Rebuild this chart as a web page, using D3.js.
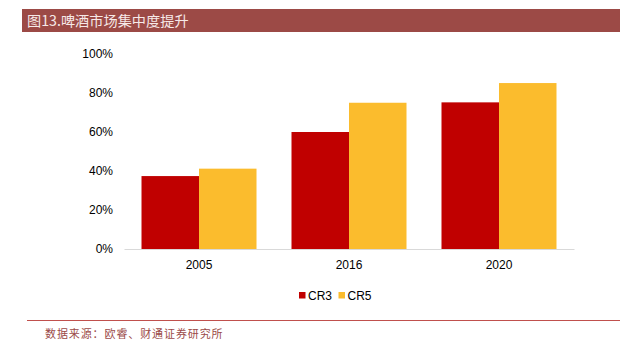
<!DOCTYPE html>
<html>
<head>
<meta charset="utf-8">
<script src="https://cdn.jsdelivr.net/npm/d3@7"></script>
<style>
  html, body { margin: 0; padding: 0; background: #fff; }
  svg { display: block; }
</style>
</head>
<body>
<svg id="chart" width="631" height="348"></svg>
<script>
// Beer market concentration ratios (share of top 3 / top 5 brewers)
const years = ["2005", "2016", "2020"];
const seriesNames = ["CR3", "CR5"];
const cr3 = [37.4, 60, 75.2];
const cr5 = [41.2, 75, 85.1];
const yTicks = [0, 20, 40, 60, 80, 100];
const colors = ["#C00000", "#FBBC2D"];

const titleText = "图13.啤酒市场集中度提升";
const sourceText = "数据来源：欧睿、财通证券研究所";

const svg = d3.select("#chart");

// Title banner
svg.append("rect")
  .attr("x", 22).attr("y", 9).attr("width", 598).attr("height", 23)
  .attr("fill", "#9C4A46");
svg.append("text")
  .attr("x", 27).attr("y", 26)
  .attr("fill", "#F6E9E8")
  .attr("font-family", "'Noto Sans CJK SC', sans-serif")
  .attr("font-size", 14.2)
  .text(titleText);

// Scales
const x0 = d3.scaleBand().domain(years).range([124, 574]).paddingInner(0.2333).paddingOuter(0.1167);
const x1 = d3.scaleBand().domain(seriesNames).range([0, x0.bandwidth()]);
const y = d3.scaleLinear().domain([0, 100]).range([249, 54]);

// Y axis labels (no axis line, no ticks)
const yAxis = d3.axisLeft(y).tickValues(yTicks).tickFormat(d => d + "%").tickSize(0).tickPadding(0);
const gy = svg.append("g").attr("transform", "translate(113,0)").call(yAxis);
gy.select(".domain").remove();
gy.selectAll("text")
  .attr("font-family", "'Liberation Sans', Arial, sans-serif")
  .attr("font-size", 12)
  .attr("fill", "#000");

// Bars
const data = years.map((yr, i) => ({ year: yr, values: [cr3[i], cr5[i]] }));
const groups = svg.append("g").selectAll("g").data(data).join("g")
  .attr("transform", d => `translate(${x0(d.year)},0)`);
groups.selectAll("rect")
  .data(d => d.values.map((v, j) => ({ key: seriesNames[j], value: v, j })))
  .join("rect")
  .attr("x", d => x1(d.key))
  .attr("y", d => y(d.value))
  .attr("width", x1.bandwidth())
  .attr("height", d => y(0) - y(d.value))
  .attr("fill", d => colors[d.j]);

// X axis
const xAxis = d3.axisBottom(x0).tickSize(0).tickPadding(11);
const gx = svg.append("g").attr("transform", `translate(0,${y(0)})`).call(xAxis);
gx.select(".domain").attr("stroke", "#D9D9D9").attr("stroke-width", 1);
gx.selectAll("text")
  .attr("font-family", "'Liberation Sans', Arial, sans-serif")
  .attr("font-size", 12)
  .attr("fill", "#000");

// Legend
const legend = svg.append("g").attr("transform", "translate(299,292)");
const legendX = [0, 39.5];
seriesNames.forEach((name, i) => {
  const g = legend.append("g").attr("transform", `translate(${legendX[i]},0)`);
  g.append("rect").attr("width", 6.5).attr("height", 6.5).attr("fill", colors[i]);
  g.append("text").attr("x", 9).attr("y", 7.5)
    .attr("font-family", "'Liberation Sans Narrow', 'Liberation Sans', Arial, sans-serif")
    .attr("font-size", 12)
    .attr("fill", "#000")
    .text(name);
});

// Footer rule and source note
svg.append("line")
  .attr("x1", 27).attr("x2", 620).attr("y1", 320.5).attr("y2", 320.5)
  .attr("stroke", "#C0504D").attr("stroke-width", 1);
svg.append("text")
  .attr("x", 45).attr("y", 338)
  .attr("fill", "#9B4A48")
  .attr("font-family", "'Noto Sans CJK SC', sans-serif")
  .attr("font-size", 11)
  .attr("letter-spacing", 0.9)
  .text(sourceText);
</script>
</body>
</html>
